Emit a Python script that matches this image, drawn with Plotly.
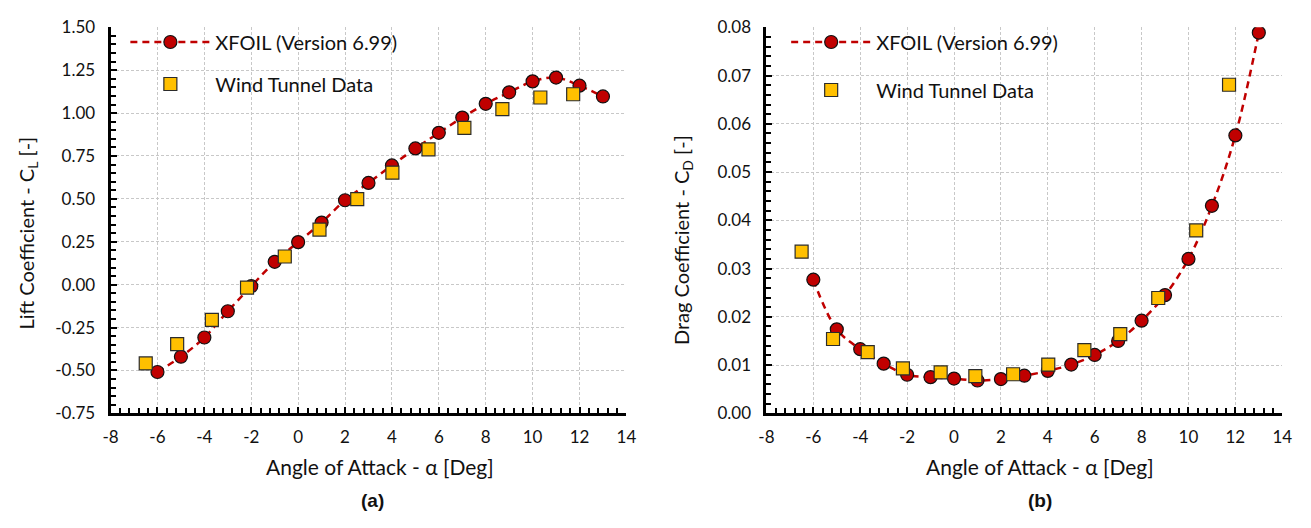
import plotly.graph_objects as go

# XFOIL polar (integer angles of attack)
xfoil_alpha = list(range(-6, 14))
xfoil_cl = [-0.509, -0.420, -0.308, -0.155, -0.009, 0.133, 0.248, 0.362, 0.492, 0.593,
            0.695, 0.794, 0.885, 0.974, 1.054, 1.121, 1.185, 1.207, 1.160, 1.097]
xfoil_cd = [0.0277, 0.0174, 0.0133, 0.0103, 0.0080, 0.0075, 0.0072, 0.0068, 0.0071, 0.0078,
            0.0088, 0.0101, 0.0121, 0.0150, 0.0192, 0.0245, 0.0320, 0.0430, 0.0576, 0.0789]

# Wind tunnel measurements
wt_alpha = [-6.50, -5.16, -3.68, -2.18, -0.57, 0.91, 2.52, 4.02, 5.56, 7.09, 8.71, 10.33, 11.73]
wt_cl = [-0.459, -0.347, -0.205, -0.017, 0.164, 0.321, 0.498, 0.653, 0.789, 0.914, 1.023, 1.091, 1.110]
wt_cd = [0.0335, 0.0154, 0.0127, 0.0093, 0.0085, 0.0077, 0.0081, 0.0101, 0.0131, 0.0164,
         0.0239, 0.0379, 0.0681]

# Tick values and labels
x_ticks = list(range(-8, 15, 2))
x_tick_text = [str(v) for v in x_ticks]
cl_ticks = [-0.75 + 0.25 * i for i in range(10)]
cl_tick_text = [f"{v:.2f}" for v in cl_ticks]
cd_ticks = [0.01 * i for i in range(9)]
cd_tick_text = [f"{v:.2f}" for v in cd_ticks]

W, H = 1311, 528
FONT = "Lato"
INK = "#111111"
RED = "#C00000"
GOLD = "#FFC000"
GRID = "#C8C8C8"


def px_x(p):
    return p / W


def px_y(p):
    return 1 - p / H


fig = go.Figure()

panels = [
    ("x", "y", "legend", xfoil_cl, wt_cl),
    ("x2", "y2", "legend2", xfoil_cd, wt_cd),
]
for xa, ya, leg, xf_vals, wt_vals in panels:
    fig.add_trace(go.Scatter(
        x=xfoil_alpha, y=xf_vals, xaxis=xa, yaxis=ya,
        name="XFOIL (Version 6.99)", legend=leg, legendgroup="xf" + xa,
        mode="lines+markers",
        line=dict(color=RED, width=2.5, dash="7px,5px", shape="spline", smoothing=1.0),
        marker=dict(symbol="circle", size=13, color=RED, line=dict(color=INK, width=1.2)),
    ))
    fig.add_trace(go.Scatter(
        x=wt_alpha, y=wt_vals, xaxis=xa, yaxis=ya,
        name="Wind Tunnel Data", legend=leg, legendgroup="wt" + xa,
        mode="markers",
        marker=dict(symbol="square", size=13, color=GOLD, line=dict(color="#2b2b2b", width=1.2)),
    ))

tick_font = dict(family=FONT, size=17, color=INK)


def x_axis(domain, anchor):
    return dict(
        domain=domain, anchor=anchor, range=[-8, 14],
        tickmode="array", tickvals=x_ticks, ticktext=x_tick_text,
        ticks="inside", ticklen=6, tickwidth=2, tickcolor="black",
        minor=dict(dtick=0.4, tick0=-8, ticks="inside", ticklen=5, tickwidth=1.5,
                   tickcolor="black", showgrid=False),
        showline=True, linewidth=3, linecolor="black",
        showgrid=True, gridcolor=GRID, gridwidth=1, griddash="3px,2px",
        zeroline=False, tickfont=tick_font, ticklabelstandoff=6,
    )


def y_axis(domain, anchor, rng, vals, text, minor_dtick):
    return dict(
        domain=domain, anchor=anchor, range=rng,
        tickmode="array", tickvals=vals, ticktext=text,
        ticks="inside", ticklen=6, tickwidth=2, tickcolor="black",
        minor=dict(dtick=minor_dtick, tick0=rng[0], ticks="inside", ticklen=5, tickwidth=1.5,
                   tickcolor="black", showgrid=False),
        showline=True, linewidth=3, linecolor="black",
        showgrid=True, gridcolor=GRID, gridwidth=1, griddash="3px,2px",
        zeroline=False, tickfont=tick_font, ticklabelstandoff=9,
    )


legend_font = dict(family=FONT, size=20, color=INK)
ydom = [px_y(419), px_y(17)]
fig.update_layout(
    width=W, height=H,
    margin=dict(l=0, r=0, t=0, b=0),
    paper_bgcolor="white", plot_bgcolor="white",
    font=dict(family=FONT, color=INK),
    xaxis=x_axis([px_x(104), px_x(627)], "y"),
    yaxis=y_axis(ydom, "x", [-0.75, 1.5], cl_ticks, cl_tick_text, 0.05),
    xaxis2=x_axis([px_x(769), px_x(1292)], "y2"),
    yaxis2=y_axis(ydom, "x2", [0, 0.08], cd_ticks, cd_tick_text, 0.002),
    legend=dict(x=px_x(119), y=px_y(12), xanchor="left", yanchor="top",
                bgcolor="rgba(0,0,0,0)", font=legend_font,
                itemwidth=80, tracegroupgap=13, traceorder="grouped"),
    legend2=dict(x=px_x(789), y=px_y(12), xanchor="left", yanchor="top",
                 bgcolor="rgba(0,0,0,0)", font=legend_font,
                 itemwidth=80, tracegroupgap=19, traceorder="grouped"),
    showlegend=True,
)

annotations = [
    dict(text="Angle of Attack - \u03b1 [Deg]", x=px_x(377), y=px_y(474), size=21),
    dict(text="Angle of Attack - \u03b1 [Deg]", x=px_x(1046), y=px_y(474), size=21),
    dict(text="Lift Coefficient - C<sub>L</sub> [-]", x=px_x(20), y=px_y(231), size=20,
         textangle=-90),
    dict(text="Drag Coefficient - C<sub>D</sub> [-]", x=px_x(684), y=px_y(239), size=20,
         textangle=-90),
]
for a in annotations:
    size = a.pop("size")
    fig.add_annotation(xref="paper", yref="paper", xanchor="center", yanchor="middle",
                       showarrow=False, font=dict(family=FONT, size=size, color=INK), **a)

for label, cx in [("(a)", 370), ("(b)", 1046)]:
    fig.add_annotation(text=f"<b>{label}</b>", xref="paper", yref="paper",
                       x=px_x(cx), y=px_y(510), xanchor="center", yanchor="middle",
                       showarrow=False,
                       font=dict(family="Liberation Sans", size=19, color=INK))

fig.write_html("out.html")
